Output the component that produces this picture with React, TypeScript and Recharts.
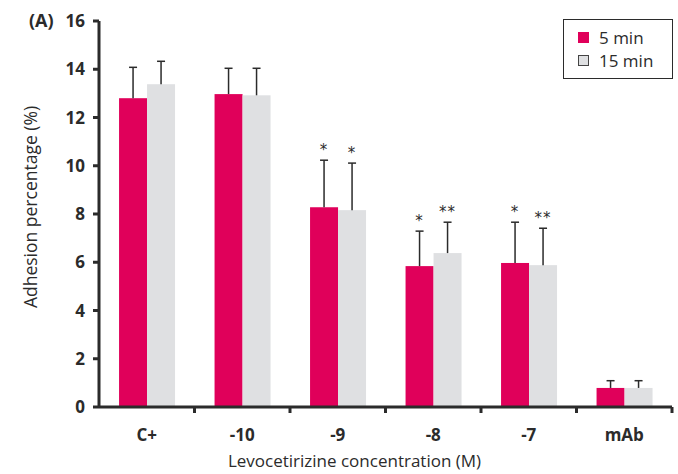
import React from "react";
import { Bar, BarChart, Legend, XAxis, YAxis } from "recharts";

const categories = ["C+", "-10", "-9", "-8", "-7", "mAb"];
const min5 = [12.8, 12.97, 8.28, 5.84, 5.97, 0.79];
const min15 = [13.38, 12.92, 8.16, 6.38, 5.88, 0.79];
const err5 = [1.28, 1.07, 1.95, 1.45, 1.69, 0.3];
const err15 = [0.95, 1.12, 1.95, 1.28, 1.53, 0.3];
const sig5 = ["", "", "*", "*", "*", ""];
const sig15 = ["", "", "*", "**", "**", ""];
const yTicks = [0, 2, 4, 6, 8, 10, 12, 14, 16];

const PINK = "#e0005a";
const GREY = "#dfe0e2";
const INK = "#2b2b2b";
const FONT = "'Open Sans', sans-serif";

const data = categories.map((cat, i) => ({
  cat,
  m5: min5[i],
  m15: min15[i],
  e5: err5[i],
  e15: err15[i],
  s5: sig5[i],
  s15: sig15[i],
}));

// bar + one-sided error bar + significance stars
const barWithError = (errKey: string, sigKey: string) => (props: any) => {
  const { x, y, width, height, fill, payload, value } = props;
  const v = Array.isArray(value) ? value[1] - value[0] : value;
  const k = v ? height / v : 0;
  const top = y - payload[errKey] * k;
  const cx = x + width / 2;
  const sig = payload[sigKey];
  return (
    <g>
      <rect x={x} y={y} width={width} height={height} fill={fill} />
      <line x1={cx} y1={y} x2={cx} y2={top} stroke={INK} strokeWidth={1.5} />
      <line x1={cx - 4} y1={top} x2={cx + 4} y2={top} stroke={INK} strokeWidth={1.5} />
      {sig && (
        <text
          x={cx}
          y={top - 5}
          textAnchor="middle"
          fontSize={15}
          letterSpacing={1}
          fill={INK}
          fontFamily="'DejaVu Sans', sans-serif"
        >
          {sig}
        </text>
      )}
    </g>
  );
};

const CatTick = (props: any) => {
  const { x, y, payload, index } = props;
  const half = payload.offset || 0;
  return (
    <g>
      <line x1={x + half} y1={y} x2={x + half} y2={y + 6} stroke={INK} strokeWidth={3} />
      <text x={x} y={y + 34} textAnchor="middle" fontSize={17} fontWeight={700} fill={INK} fontFamily={FONT}>
        {categories[index] ?? payload.value}
      </text>
    </g>
  );
};

const LegendBox = () => (
  <div
    style={{
      width: 110,
      height: 60,
      border: `1.5px solid ${INK}`,
      background: "#fff",
      fontFamily: FONT,
      fontSize: 17,
      color: INK,
      boxSizing: "border-box",
      padding: "6px 0 0 14px",
      lineHeight: "23px",
    }}
  >
    {[
      { name: "5 min", fill: PINK, border: PINK },
      { name: "15 min", fill: GREY, border: "#444" },
    ].map((it) => (
      <div key={it.name} style={{ display: "flex", alignItems: "center" }}>
        <span
          style={{
            display: "inline-block",
            width: 11,
            height: 11,
            background: it.fill,
            border: `1px solid ${it.border}`,
            boxSizing: "border-box",
            marginRight: 10,
          }}
        />
        {it.name}
      </div>
    ))}
  </div>
);

export default function App() {
  return (
    <div style={{ position: "absolute", left: 0, top: 0, width: 678, height: 474, background: "#fff" }}>
      <div
        style={{
          position: "absolute",
          left: 29,
          top: 8,
          fontFamily: FONT,
          fontWeight: 700,
          fontSize: 18,
          color: INK,
        }}
      >
        (A)
      </div>
      <BarChart
        width={678}
        height={474}
        data={data}
        margin={{ top: 21, right: 6, bottom: 0, left: 0 }}
        barCategoryGap="21%"
        barGap={0}
      >
        <XAxis
          dataKey="cat"
          height={67}
          axisLine={{ stroke: INK, strokeWidth: 3 }}
          tickLine={false}
          tickSize={0}
          tickMargin={0}
          tick={<CatTick />}
          interval={0}
          label={{
            value: "Levocetirizine concentration (M)",
            position: "insideBottom",
            offset: 7,
            dx: -31,
            fontSize: 17,
            fill: INK,
            fontFamily: FONT,
            fontWeight: 500,
          }}
        />
        <YAxis
          width={99}
          domain={[0, 16]}
          ticks={yTicks}
          interval={0}
          axisLine={{ stroke: INK, strokeWidth: 3 }}
          tickLine={{ stroke: INK, strokeWidth: 3 }}
          tickSize={6}
          tickMargin={8}
          tick={{ fontSize: 17, fontWeight: 700, fill: INK, fontFamily: FONT }}
          label={{
            value: "Adhesion percentage (%)",
            angle: -90,
            position: "insideLeft",
            offset: 31,
            dy: -7,
            fontSize: 17.5,
            fill: INK,
            fontFamily: FONT,
            fontWeight: 500,
            style: { textAnchor: "middle" },
          }}
        />
        <Legend
          layout="horizontal"
          verticalAlign="middle"
          content={<LegendBox />}
          wrapperStyle={{ position: "absolute", top: 19, left: 563, width: 112 }}
        />
        <Bar dataKey="m5" name="5 min" fill={PINK} isAnimationActive={false} shape={barWithError("e5", "s5")} />
        <Bar dataKey="m15" name="15 min" fill={GREY} isAnimationActive={false} shape={barWithError("e15", "s15")} />
      </BarChart>
    </div>
  );
}
